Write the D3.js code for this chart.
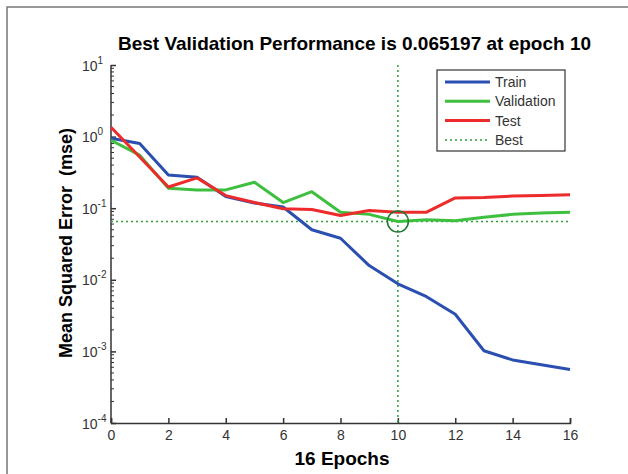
<!doctype html>
<html>
<head>
  <meta charset="utf-8" />
  <script src="https://cdn.jsdelivr.net/npm/d3@7"></script>
  <style>
  body{
    margin: 0;
    background: #ffffff;
    font-family: "Liberation Sans", Arial, sans-serif;
  }
  svg text{
    font-family: "Liberation Sans", Arial, sans-serif;
  }
  .axis path, .axis line{
    stroke: #333333;
    stroke-width: 1.5;
  }
  .axis text{
    font-size: 14px;
    fill: #333333;
  }
  .curve{
    fill: none;
    stroke-width: 3;
    stroke-linejoin: round;
  }
  .best{
    stroke: #2f9e3a;
    stroke-width: 1.5;
    stroke-dasharray: 2,3;
  }
  </style>
</head>
<body>
  <div id="viz"></div>

  <script>
  // values
  var epochs = d3.range(0, 17);
  var train = [0.95, 0.80, 0.29, 0.27, 0.146, 0.118, 0.104, 0.050, 0.038, 0.0158, 0.0088, 0.0058, 0.0033, 0.00102, 0.00076, 0.00065, 0.00056];
  var validation = [0.89, 0.55, 0.19, 0.18, 0.18, 0.23, 0.12, 0.17, 0.088, 0.082, 0.065197, 0.069, 0.067, 0.075, 0.082, 0.086, 0.088];
  var test = [1.35, 0.52, 0.198, 0.265, 0.15, 0.12, 0.098, 0.096, 0.079, 0.093, 0.088, 0.088, 0.139, 0.141, 0.148, 0.15, 0.154];
  var bestEpoch = 10, bestPerf = 0.065197;
  var xTicks = [0, 2, 4, 6, 8, 10, 12, 14, 16];
  var yExponents = [-4, -3, -2, -1, 0, 1];
  var legendNames = ["Train", "Validation", "Test", "Best"];
  var legendColors = ["#2b4fb0", "#3fbf3f", "#ee2b2b", "#2f9e3a"];

  var width = 628, height = 474;
  var plotLeft = 111, plotRight = 570, plotTop = 65, plotBottom = 423;

  var svg = d3.select("#viz").append("svg")
    .attr("width", width)
    .attr("height", height);

  // frame of the figure
  svg.append("path")
    .attr("d", "M7,474 V7 H628")
    .attr("fill", "none")
    .attr("stroke", "#777777")
    .attr("stroke-width", 1.5);

  var x = d3.scaleLinear().domain([0, 16]).range([plotLeft, plotRight]);
  var y = d3.scaleLog().domain([1e-4, 10]).range([plotBottom, plotTop]);

  // x axis, ticks pointing inwards
  var xAxis = d3.axisBottom(x)
    .tickValues(xTicks)
    .tickSizeInner(-5)
    .tickSizeOuter(-5)
    .tickPadding(7)
    .tickFormat(d3.format("d"));

  svg.append("g")
    .attr("class", "axis")
    .attr("transform", "translate(0," + plotBottom + ")")
    .call(xAxis)
    .attr("font-size", null)
    .attr("font-family", null);

  // minor y ticks
  var minor = [];
  yExponents.slice(0, -1).forEach(function(e){
    for (var k = 2; k < 10; k++) minor.push(k * Math.pow(10, e));
  });
  svg.append("g")
    .attr("class", "axis")
    .selectAll("line")
    .data(minor)
    .enter().append("line")
    .attr("x1", plotLeft).attr("x2", plotLeft + 3)
    .attr("y1", function(d){ return y(d); })
    .attr("y2", function(d){ return y(d); })
    .style("stroke-width", 1);

  // y axis with 10^n labels
  var yAxis = d3.axisLeft(y)
    .tickValues(yExponents.map(function(e){ return Math.pow(10, e); }))
    .tickSizeInner(-5)
    .tickSizeOuter(0)
    .tickFormat("");

  var gy = svg.append("g")
    .attr("class", "axis")
    .attr("transform", "translate(" + plotLeft + ",0)")
    .call(yAxis)
    .attr("font-size", null)
    .attr("font-family", null);
  gy.select(".domain").attr("d", "M0," + plotBottom + "V" + plotTop);

  gy.selectAll(".tick text").remove();
  gy.selectAll(".tick").append("text")
    .attr("x", -29)
    .attr("y", 5)
    .attr("text-anchor", "start")
    .each(function(d){
      var t = d3.select(this);
      t.append("tspan").text("10");
      t.append("tspan")
        .attr("dy", -7)
        .style("font-size", "10px")
        .text(Math.round(Math.log10(d)));
    });

  // best lines
  svg.append("line").attr("class", "best")
    .attr("x1", x(bestEpoch)).attr("x2", x(bestEpoch))
    .attr("y1", plotTop).attr("y2", plotBottom);
  svg.append("line").attr("class", "best")
    .attr("x1", plotLeft).attr("x2", plotRight)
    .attr("y1", y(bestPerf)).attr("y2", y(bestPerf));

  var line = d3.line()
    .x(function(d, i){ return x(epochs[i]); })
    .y(function(d){ return y(d); });

  [train, validation, test].forEach(function(series, i){
    svg.append("path")
      .datum(series)
      .attr("class", "curve")
      .attr("stroke", legendColors[i])
      .attr("d", line);
  });

  svg.append("circle")
    .attr("cx", x(bestEpoch))
    .attr("cy", y(bestPerf))
    .attr("r", 10.5)
    .attr("fill", "none")
    .attr("stroke", "#1e7a30")
    .attr("stroke-width", 1.5);

  // legend
  var legend = svg.append("g").attr("transform", "translate(437,70)");
  legend.append("rect")
    .attr("width", 128).attr("height", 81)
    .attr("fill", "#ffffff")
    .attr("stroke", "#333333")
    .attr("stroke-width", 1.2);
  legendNames.forEach(function(name, i){
    var row = legend.append("g").attr("transform", "translate(0," + (12 + i * 19.3) + ")");
    row.append("line")
      .attr("x1", 8).attr("x2", 53)
      .attr("stroke", legendColors[i])
      .attr("stroke-width", i == 3 ? 1.5 : 3)
      .attr("stroke-dasharray", i == 3 ? "2,3" : null);
    row.append("text")
      .attr("x", 58).attr("y", 5)
      .style("font-size", "14px")
      .attr("fill", "#333333")
      .text(name);
  });

  // titles
  svg.append("text")
    .attr("x", 354.5).attr("y", 50)
    .attr("text-anchor", "middle")
    .style("font-size", "19px")
    .style("font-weight", "bold")
    .text("Best Validation Performance is " + bestPerf + " at epoch " + bestEpoch);

  svg.append("text")
    .attr("x", 342).attr("y", 465)
    .attr("text-anchor", "middle")
    .style("font-size", "19px")
    .style("font-weight", "bold")
    .text("16 Epochs");

  svg.append("text")
    .attr("transform", "translate(72,243) rotate(-90)")
    .attr("text-anchor", "middle")
    .style("font-size", "18px")
    .style("font-weight", "bold")
    .style("white-space", "pre")
    .text("Mean Squared Error  (mse)");
  </script>
</body>
</html>
